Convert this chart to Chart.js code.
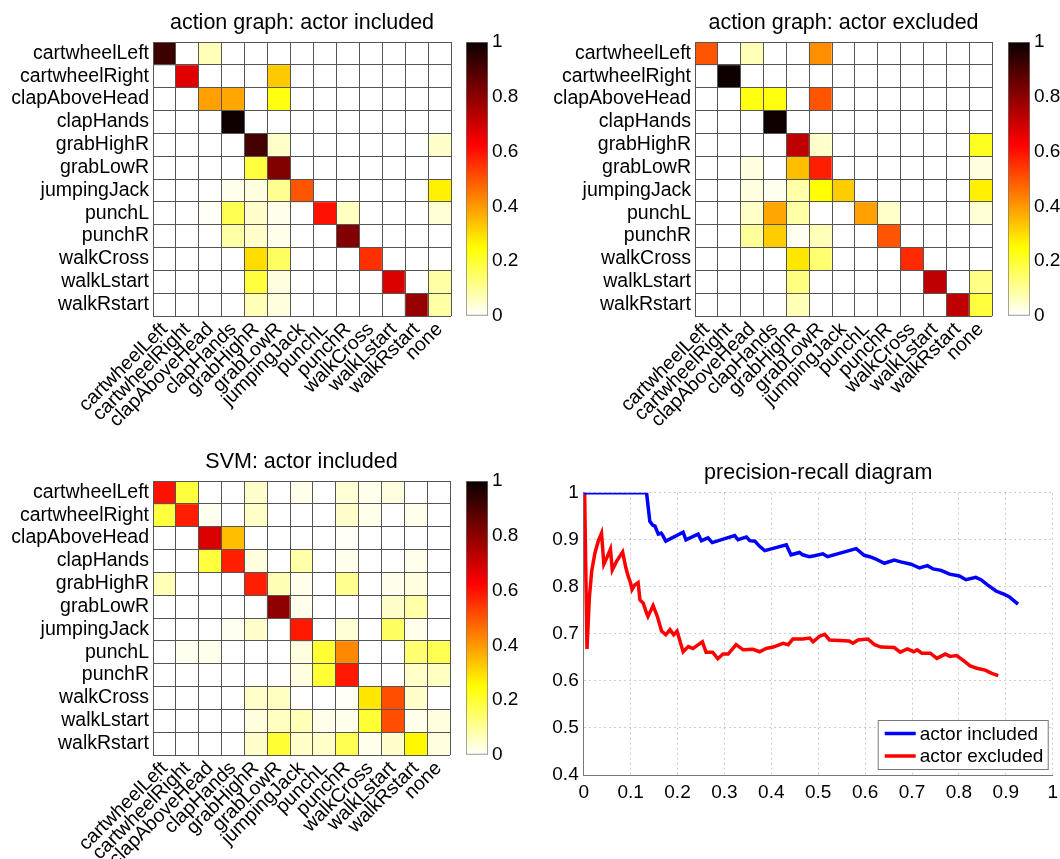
<!DOCTYPE html>
<html>
<head>
<meta charset="utf-8">
<script src="https://cdn.jsdelivr.net/npm/chart.js@4.4.1/dist/chart.umd.min.js"></script>
<style>
  body { margin: 0; background: #fff; }
  #fig { position: relative; width: 1060px; height: 859px; overflow: hidden; background: #fff; }
  #fig canvas { position: absolute; }
</style>
</head>
<body>
<div id="fig">
  <canvas id="graphIncl" width="462" height="440" style="left:0px;top:0px"></canvas>
  <canvas id="barIncl" width="80" height="440" style="left:440px;top:0px"></canvas>
  <canvas id="graphExcl" width="462" height="440" style="left:540px;top:0px"></canvas>
  <canvas id="barExcl" width="80" height="440" style="left:980px;top:0px"></canvas>
  <canvas id="svmIncl" width="462" height="419" style="left:0px;top:440px"></canvas>
  <canvas id="barSvm" width="80" height="419" style="left:440px;top:440px"></canvas>
  <canvas id="prCurve" width="524" height="419" style="left:540px;top:440px"></canvas>
</div>
<script>
// ---- data ----
const rowLabels = ['cartwheelLeft', 'cartwheelRight', 'clapAboveHead', 'clapHands', 'grabHighR', 'grabLowR',
  'jumpingJack', 'punchL', 'punchR', 'walkCross', 'walkLstart', 'walkRstart'];
const colLabels = rowLabels.concat(['none']);

// confusion matrices, rows = true action, cols = predicted (last col = none)
const graphIncluded = [
  [0.91, 0, 0.07, 0, 0, 0, 0, 0, 0, 0, 0, 0, 0],
  [0, 0.67, 0, 0, 0, 0.33, 0, 0, 0, 0, 0, 0, 0],
  [0, 0, 0.39, 0.38, 0, 0.235, 0, 0, 0, 0, 0, 0, 0],
  [0, 0, 0, 0.98, 0, 0, 0, 0, 0, 0, 0, 0, 0],
  [0, 0, 0, 0, 0.9, 0.055, 0, 0, 0, 0, 0, 0, 0.05],
  [0, 0, 0, 0, 0.19, 0.81, 0, 0, 0, 0, 0, 0, 0],
  [0, 0, 0, 0.02, 0.03, 0.11, 0.5, 0, 0, 0, 0, 0, 0.27],
  [0, 0, 0.01, 0.17, 0.05, 0.02, 0, 0.6, 0.06, 0, 0, 0, 0.04],
  [0, 0, 0, 0.09, 0.05, 0.02, 0, 0, 0.81, 0, 0, 0, 0],
  [0, 0, 0, 0, 0.3, 0.155, 0, 0, 0, 0.555, 0, 0, 0],
  [0, 0, 0, 0, 0.19, 0.03, 0, 0, 0, 0, 0.68, 0, 0.09],
  [0, 0, 0, 0, 0.07, 0.03, 0, 0, 0, 0, 0, 0.78, 0.09]
];
const graphExcluded = [
  [0.5, 0, 0.07, 0, 0, 0.415, 0, 0, 0, 0, 0, 0, 0],
  [0, 0.98, 0, 0, 0, 0, 0, 0, 0, 0, 0, 0, 0],
  [0, 0, 0.235, 0.235, 0, 0.5, 0, 0, 0, 0, 0, 0, 0],
  [0, 0, 0, 0.98, 0, 0, 0, 0, 0, 0, 0, 0, 0],
  [0, 0, 0, 0, 0.72, 0.05, 0, 0, 0, 0, 0, 0, 0.22],
  [0, 0, 0.03, 0, 0.345, 0.58, 0, 0, 0, 0, 0, 0, 0.03],
  [0, 0, 0.03, 0.015, 0.085, 0.25, 0.325, 0, 0, 0, 0, 0, 0.27],
  [0, 0, 0.055, 0.38, 0.09, 0, 0, 0.39, 0.055, 0, 0, 0, 0.04],
  [0, 0, 0.1, 0.325, 0.015, 0.07, 0, 0, 0.5, 0, 0, 0, 0],
  [0, 0, 0, 0, 0.285, 0.14, 0, 0, 0, 0.565, 0, 0, 0],
  [0, 0, 0, 0, 0.125, 0, 0, 0, 0, 0, 0.72, 0, 0.12],
  [0, 0, 0, 0, 0.07, 0, 0, 0, 0, 0, 0, 0.72, 0.19]
];
const svmIncluded = [
  [0.6, 0.19, 0, 0, 0.05, 0, 0.02, 0, 0.04, 0.02, 0.03, 0, 0],
  [0.19, 0.58, 0.015, 0, 0.055, 0, 0, 0, 0.05, 0.02, 0, 0.02, 0],
  [0, 0, 0.68, 0.345, 0, 0, 0, 0, 0.01, 0, 0, 0, 0],
  [0, 0, 0.19, 0.58, 0.03, 0, 0.085, 0, 0.02, 0, 0, 0.02, 0],
  [0.07, 0, 0, 0, 0.58, 0.075, 0.02, 0, 0.11, 0, 0.02, 0.03, 0],
  [0, 0, 0, 0, 0, 0.79, 0.02, 0, 0, 0, 0.05, 0.085, 0],
  [0, 0, 0, 0.015, 0.05, 0, 0.59, 0, 0.04, 0, 0.155, 0.02, 0],
  [0, 0.015, 0.02, 0, 0, 0, 0.03, 0.2, 0.425, 0, 0, 0.14, 0.17],
  [0, 0, 0, 0, 0, 0, 0.03, 0.2, 0.59, 0, 0, 0.055, 0.06],
  [0, 0, 0, 0, 0.055, 0.06, 0, 0, 0.01, 0.285, 0.51, 0.05, 0],
  [0, 0, 0, 0, 0.03, 0.06, 0.07, 0.02, 0.02, 0.2, 0.51, 0.02, 0.03],
  [0, 0, 0, 0, 0.05, 0.2, 0.055, 0.055, 0.17, 0.02, 0.05, 0.26, 0.03]
];

// precision-recall curves
const recallIncluded = [0, 0.134, 0.141, 0.147, 0.152, 0.159, 0.165, 0.168, 0.175, 0.212, 0.218, 0.244, 0.251,
  0.265, 0.274, 0.322, 0.329, 0.347, 0.354, 0.365, 0.375, 0.386, 0.432, 0.442, 0.460, 0.467, 0.481, 0.492,
  0.510, 0.520, 0.581, 0.598, 0.610, 0.623, 0.641, 0.662, 0.676, 0.698, 0.716, 0.733, 0.745, 0.762, 0.780,
  0.801, 0.815, 0.836, 0.847, 0.861, 0.879, 0.897, 0.907, 0.926];
const precisionIncluded = [1, 1, 0.939, 0.931, 0.929, 0.912, 0.914, 0.910, 0.897, 0.916, 0.900, 0.912, 0.898,
  0.904, 0.894, 0.909, 0.900, 0.906, 0.898, 0.897, 0.886, 0.877, 0.889, 0.868, 0.873, 0.868, 0.864, 0.866,
  0.870, 0.864, 0.881, 0.867, 0.864, 0.859, 0.850, 0.857, 0.853, 0.848, 0.840, 0.845, 0.838, 0.835, 0.827,
  0.823, 0.815, 0.820, 0.815, 0.804, 0.791, 0.784, 0.779, 0.763];
const recallExcluded = [0, 0.002, 0.007, 0.012, 0.017, 0.024, 0.031, 0.038, 0.043, 0.049, 0.057, 0.061, 0.070,
  0.083, 0.090, 0.095, 0.100, 0.103, 0.109, 0.116, 0.120, 0.127, 0.134, 0.137, 0.148, 0.157, 0.166, 0.175,
  0.184, 0.192, 0.199, 0.212, 0.223, 0.233, 0.240, 0.253, 0.261, 0.275, 0.286, 0.297, 0.308, 0.325, 0.340,
  0.361, 0.375, 0.389, 0.404, 0.425, 0.436, 0.446, 0.467, 0.482, 0.489, 0.503, 0.514, 0.524, 0.566, 0.574,
  0.585, 0.606, 0.620, 0.634, 0.662, 0.675, 0.690, 0.704, 0.711, 0.721, 0.739, 0.753, 0.771, 0.781, 0.795,
  0.810, 0.824, 0.838, 0.856, 0.870, 0.884];
const precisionExcluded = [1, 1, 0.668, 0.776, 0.833, 0.872, 0.897, 0.914, 0.848, 0.861, 0.880, 0.836, 0.854,
  0.874, 0.840, 0.822, 0.808, 0.794, 0.804, 0.809, 0.772, 0.765, 0.744, 0.737, 0.760, 0.737, 0.706, 0.698,
  0.709, 0.698, 0.706, 0.662, 0.673, 0.669, 0.674, 0.683, 0.661, 0.661, 0.647, 0.657, 0.657, 0.677, 0.666,
  0.667, 0.662, 0.669, 0.672, 0.680, 0.677, 0.689, 0.689, 0.691, 0.683, 0.695, 0.699, 0.687, 0.685, 0.680,
  0.687, 0.689, 0.677, 0.672, 0.671, 0.661, 0.668, 0.662, 0.666, 0.659, 0.659, 0.648, 0.657, 0.652, 0.654,
  0.643, 0.632, 0.627, 0.623, 0.616, 0.611];

// ---- style ----
Chart.defaults.font.family = "'Liberation Sans', Arial, Helvetica, sans-serif";
Chart.defaults.font.size = 19;
Chart.defaults.color = '#000';
Chart.defaults.animation = false;

const TITLE_SIZE = 21.5;
const LABEL_SIZE = 19.5;
const GRID = '#555';
const shortNum = v => String(+Number(v).toFixed(1));   // 1.0 -> "1", 0.2 -> "0.2"

// flipped "hot" colormap: 0 white -> yellow -> red -> 1 black
function hot(v) {
  const t = 1 - v;
  const r = Math.min(1, t / 0.375);
  const g = Math.min(1, Math.max(0, (t - 0.375) / 0.375));
  const b = Math.min(1, Math.max(0, (t - 0.75) / 0.25));
  return `rgb(${Math.round(r * 255)},${Math.round(g * 255)},${Math.round(b * 255)})`;
}

// title padding so the text baseline sits at baselineY (canvas coords) and the plot starts at areaTop
function titlePadding(baselineY, areaTop) {
  const lh = TITLE_SIZE * 1.2;
  const top = baselineY - 0.3465 * TITLE_SIZE - lh / 2;
  return { top: top, bottom: areaTop - top - lh };
}

function confusionChart(id, title, matrix, area, baselineY) {
  const cv = document.getElementById(id);
  const W = cv.width, H = cv.height;
  const cellH = (area.bottom - area.top) / rowLabels.length;
  const datasets = matrix.map((row, r) => ({
    data: row.map(() => [r - 0.5, r + 0.5]),
    backgroundColor: row.map(hot),
    borderWidth: 0,
    barPercentage: 1,
    categoryPercentage: 1,
    grouped: false
  }));
  return new Chart(cv, {
    type: 'bar',
    data: { labels: colLabels, datasets: datasets },
    options: {
      responsive: false,
      layout: { padding: { left: 0, top: 0, bottom: 0, right: W - area.right } },
      plugins: {
        legend: { display: false },
        tooltip: { enabled: false },
        title: {
          display: true, text: title, fullSize: false,
          font: { size: TITLE_SIZE, weight: 'normal' },
          padding: titlePadding(baselineY, area.top)
        }
      },
      scales: {
        x: {
          type: 'category',
          afterFit: s => { s.height = H - area.bottom; },
          ticks: { minRotation: 45, maxRotation: 45, autoSkip: false, padding: 2, font: { size: LABEL_SIZE } },
          grid: { offset: true, color: GRID, z: 1, drawTicks: false },
          border: { display: false }
        },
        // ticks on the cell edges (for the grid lines), labels shifted down half a cell
        y: {
          type: 'linear', reverse: true, min: -0.5, max: 11.5,
          afterBuildTicks: s => { s.ticks = colLabels.map((_, i) => ({ value: i - 0.5 })); },
          afterFit: s => { s.width = area.left; },
          ticks: {
            autoSkip: false, padding: 4, labelOffset: cellH / 2, font: { size: LABEL_SIZE },
            callback: v => rowLabels[v + 0.5] || ''
          },
          grid: { color: GRID, z: 1, drawTicks: false },
          border: { display: false }
        }
      }
    }
  });
}

function colorbar(id, area) {
  const cv = document.getElementById(id);
  const W = cv.width, H = cv.height;
  return new Chart(cv, {
    type: 'bar',
    data: {
      labels: [''],
      datasets: [{
        data: [[0, 1]],
        backgroundColor: ctx => {
          const a = ctx.chart.chartArea;
          if (!a) return '#fff';
          const g = ctx.chart.ctx.createLinearGradient(0, a.bottom, 0, a.top);
          g.addColorStop(0, hot(0));
          g.addColorStop(0.25, hot(0.25));
          g.addColorStop(0.625, hot(0.625));
          g.addColorStop(1, hot(0.985));
          return g;
        },
        borderColor: '#777',
        borderWidth: 1,
        borderSkipped: false,
        barPercentage: 1,
        categoryPercentage: 1
      }]
    },
    options: {
      responsive: false,
      layout: { padding: { left: area.left, top: area.top, bottom: H - area.bottom, right: 0 } },
      plugins: { legend: { display: false }, tooltip: { enabled: false } },
      scales: {
        x: { display: false },
        y: {
          position: 'right', min: 0, max: 1,
          afterFit: s => { s.width = W - area.right; },
          ticks: { stepSize: 0.2, padding: 4, callback: shortNum },
          grid: { drawOnChartArea: false, drawTicks: false },
          border: { display: false }
        }
      }
    }
  });
}

// legend box drawn inside the lower right of the plot
const insideLegend = {
  id: 'insideLegend',
  afterDatasetsDraw(chart) {
    const { ctx, chartArea: a } = chart;
    const w = 170, h = 49;
    const x0 = a.right - 5 - w, y0 = a.bottom - 6 - h;
    ctx.save();
    ctx.fillStyle = '#fff';
    ctx.fillRect(x0, y0, w, h);
    ctx.strokeStyle = '#777';
    ctx.lineWidth = 1;
    ctx.strokeRect(x0 + 0.5, y0 + 0.5, w, h);
    ctx.font = `19px ${Chart.defaults.font.family}`;
    ctx.textBaseline = 'middle';
    ctx.fillStyle = '#000';
    chart.data.datasets.forEach((ds, i) => {
      const y = y0 + 13.5 + i * 22.5;
      ctx.strokeStyle = ds.borderColor;
      ctx.lineWidth = ds.borderWidth;
      ctx.beginPath();
      ctx.moveTo(x0 + 7, y);
      ctx.lineTo(x0 + 38, y);
      ctx.stroke();
      ctx.fillText(ds.label, x0 + 42, y + 1);
    });
    ctx.restore();
  }
};

function prChart(id, area, baselineY) {
  const cv = document.getElementById(id);
  const W = cv.width, H = cv.height;
  const toPoints = (xs, ys) => xs.map((x, i) => ({ x: x, y: ys[i] }));
  const dotted = 'rgba(0,0,0,0.2)';
  return new Chart(cv, {
    type: 'scatter',
    data: {
      datasets: [
        { label: 'actor included', data: toPoints(recallIncluded, precisionIncluded), showLine: true,
          borderColor: '#0000ff', borderWidth: 3.5, pointRadius: 0 },
        { label: 'actor excluded', data: toPoints(recallExcluded, precisionExcluded), showLine: true,
          borderColor: '#ff0000', borderWidth: 3.5, pointRadius: 0 }
      ]
    },
    options: {
      responsive: false,
      // the last x tick label ("1") reserves its own room on the right
      layout: { padding: { left: 0, top: 0, bottom: 0, right: 1 } },
      plugins: {
        legend: { display: false },
        tooltip: { enabled: false },
        title: {
          display: true, text: 'precision-recall diagram', fullSize: false,
          font: { size: TITLE_SIZE, weight: 'normal' },
          padding: titlePadding(baselineY, area.top)
        }
      },
      scales: {
        x: {
          type: 'linear', min: 0, max: 1,
          afterFit: s => { s.height = H - area.bottom; },
          ticks: { stepSize: 0.1, padding: 6, callback: shortNum },
          grid: { color: dotted, drawTicks: false },
          border: { color: '#777', dash: [2, 3] }
        },
        y: {
          type: 'linear', min: 0.4, max: 1,
          afterFit: s => { s.width = area.left; },
          ticks: { stepSize: 0.1, padding: 5, callback: shortNum },
          grid: { color: dotted, drawTicks: false },
          border: { color: '#777', dash: [2, 3] }
        }
      }
    },
    plugins: [insideLegend]
  });
}

confusionChart('graphIncl', 'action graph: actor included', graphIncluded,
  { left: 153, top: 42, right: 451, bottom: 316 }, 31);
colorbar('barIncl', { left: 26, top: 42, right: 48, bottom: 316 });
confusionChart('graphExcl', 'action graph: actor excluded', graphExcluded,
  { left: 155, top: 42, right: 452, bottom: 316 }, 31);
colorbar('barExcl', { left: 28, top: 42, right: 50, bottom: 316 });
confusionChart('svmIncl', 'SVM: actor included', svmIncluded,
  { left: 153, top: 41, right: 450, bottom: 315 }, 30);
colorbar('barSvm', { left: 26, top: 41, right: 48, bottom: 315 });
prChart('prCurve', { left: 43.7, top: 52.7, right: 513.7, bottom: 335 }, 41);
</script>
</body>
</html>
